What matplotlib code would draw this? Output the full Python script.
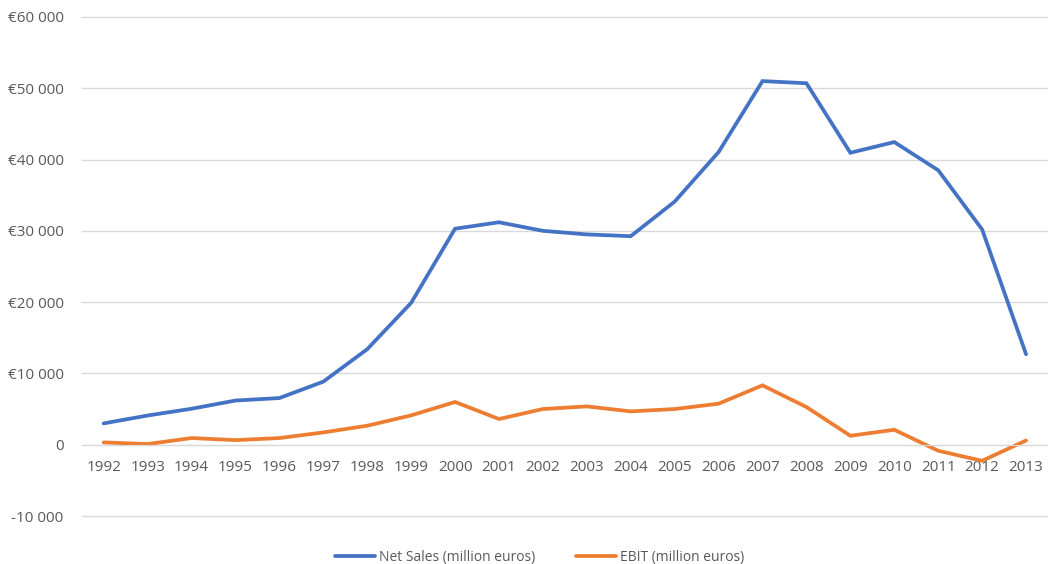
import matplotlib
matplotlib.use("Agg")
import matplotlib.pyplot as plt
from matplotlib.ticker import FixedLocator

years = [str(y) for y in range(1992, 2014)]
net_sales = [3000, 4100, 5050, 6200, 6550, 8850, 13400, 19900, 30300, 31200, 30000,
             29500, 29250, 34100, 41050, 51000, 50700, 40950, 42450, 38500, 30200, 12700]
ebit = [330, 100, 940, 650, 940, 1730, 2670, 4120, 6000, 3610, 5010,
        5380, 4680, 5010, 5760, 8330, 5290, 1260, 2100, -840, -2250, 600]
y_ticks = [-10000, 0, 10000, 20000, 30000, 40000, 50000, 60000]
y_labels = ["-10 000", "0", "€10 000", "€20 000", "€30 000", "€40 000", "€50 000", "€60 000"]

plt.rcParams['font.family'] = ['Open Sans', 'DejaVu Sans']
fig = plt.figure(figsize=(10.48, 5.64), dpi=100)
ax = fig.add_axes([0.078, 0.085, 0.922, 0.885])

x = list(range(len(years)))
ax.plot(x, net_sales, color="#4472C4", lw=2.7, solid_joinstyle='miter', solid_capstyle='round',
        label="Net Sales (million euros)")
ax.plot(x, ebit, color="#ED7D31", lw=2.7, solid_joinstyle='miter', solid_capstyle='round',
        label="EBIT (million euros)")

ax.set_xlim(-0.5, len(years) - 0.5)
ax.set_ylim(-10000, 60000)
ax.yaxis.set_major_locator(FixedLocator(y_ticks))
ax.set_yticklabels(y_labels)
ax.set_xticks(x)
ax.set_xticklabels(years)
ax.grid(axis='y', color='#D9D9D9', lw=1)
for gl in ax.get_ygridlines():
    gl.set_clip_on(False)
ax.set_axisbelow(True)
for s in ['top', 'right', 'left']:
    ax.spines[s].set_visible(False)
ax.spines['bottom'].set_position(('data', 0))
ax.spines['bottom'].set_color('#D9D9D9')
ax.tick_params(axis='both', length=0, labelsize=11, labelcolor='#595959')
ax.tick_params(axis='y', pad=13)
ax.tick_params(axis='x', pad=11)

fig.legend(loc='center', bbox_to_anchor=(0.515, 0.012), ncol=2, frameon=False,
           fontsize=10, labelcolor='#595959', handlelength=2.9, columnspacing=2.9,
           handletextpad=0.3)

fig.savefig("out.png", dpi=100)
